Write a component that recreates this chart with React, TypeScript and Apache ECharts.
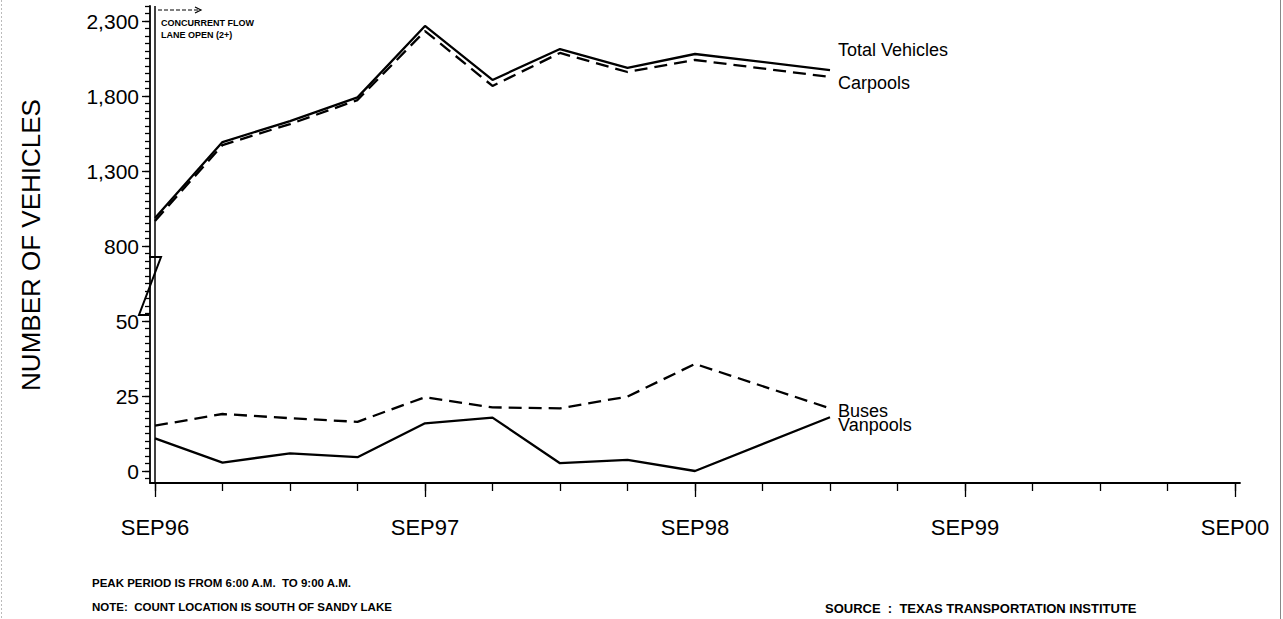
import React, { useEffect, useRef } from "react";
import * as echarts from "echarts";

// Months since SEP96 for each observation (quarterly, no Dec98 count)
const months = [0, 3, 6, 9, 12, 15, 18, 21, 24, 30];
const totalVehicles = [987, 1493, 1633, 1791, 2267, 1907, 2113, 1987, 2080, 1973];
const carpools = [967, 1473, 1613, 1773, 2233, 1867, 2087, 1960, 2040, 1927];
const buses = [15.1, 19, 17.6, 16.4, 24.6, 21.2, 20.9, 24.8, 35.7, 20.9];
const vanpools = [10.9, 2.8, 5.9, 4.6, 15.9, 17.8, 2.6, 3.7, 0, 17.9];

const yTickValues = [0, 25, 50, 800, 1300, 1800, 2300];
const xTickLabels = ["SEP96", "SEP97", "SEP98", "SEP99", "SEP00"];

const FONT = "'Liberation Sans', Arial, sans-serif";

// broken axis: 0..50 -> 0..20 units, 800..2300 -> 30..60 units
const toUnits = (v: number) => (v <= 50 ? v * 0.4 : 30 + (v - 800) / 50);

const unitTicks: number[] = [];
for (let u = -1; u <= 62; u++) unitTicks.push(u);
const unitMajor = yTickValues.map((v) => toUnits(v));
const quarterTicks: number[] = [];
for (let m = 0; m <= 48; m += 3) quarterTicks.push(m);
const yearTicks = xTickLabels.map((_, i) => i * 12);

export default function App() {
  const ref = useRef<HTMLDivElement>(null);
  useEffect(() => {
    if (!ref.current) return;
    const chart = echarts.init(ref.current, null, { renderer: "svg" });
    const mk = (name: string, vals: number[], dashed: boolean, off: number[]) => ({
      name,
      type: "line",
      xAxisIndex: 0,
      yAxisIndex: 0,
      symbol: "none",
      data: months.map((m, i) => [m, toUnits(vals[i])]),
      lineStyle: { color: "#000", width: 2.3, type: dashed ? [13, 7] : "solid" },
      endLabel: {
        show: true,
        formatter: "{a}",
        color: "#000",
        fontSize: 18,
        fontFamily: FONT,
        distance: 8,
        offset: off,
      },
    });
    const s0: any = mk("Total Vehicles", totalVehicles, false, [0, -20]);
    s0.markLine = {
      silent: true,
      symbol: "none",
      label: { show: false },
      lineStyle: { color: "#000", width: 1.5, type: "solid" },
      data: [{ xAxis: 0 }],
    };
    chart.setOption({
      animation: false,
      backgroundColor: "#fff",
      grid: { left: 150, top: 6, width: 1090, height: 477, containLabel: false },
      xAxis: [
        {
          type: "value",
          position: "bottom",
          min: -0.222,
          max: 48.222,
          axisLine: { show: true, onZero: false, lineStyle: { color: "#000", width: 1.8 } },
          axisTick: { show: true, customValues: quarterTicks, length: 8, lineStyle: { color: "#000", width: 1.3 } },
          axisLabel: { show: false },
          splitLine: { show: false },
        },
        {
          type: "value",
          position: "bottom",
          min: -0.222,
          max: 48.222,
          axisLine: { show: false, onZero: false },
          axisTick: { show: true, customValues: yearTicks, length: 14, lineStyle: { color: "#000", width: 1.3 } },
          axisLabel: {
            show: true,
            customValues: yearTicks,
            margin: 33,
            color: "#000",
            fontSize: 22,
            fontFamily: FONT,
            formatter: (v: number) => xTickLabels[Math.round(v / 12)] ?? "",
          },
          splitLine: { show: false },
        },
      ],
      yAxis: [
        {
          type: "value",
          position: "left",
          min: -1.6,
          max: 62,
          axisLine: { show: true, onZero: false, lineStyle: { color: "#000", width: 1.8 } },
          axisTick: { show: true, customValues: unitTicks, length: 5, lineStyle: { color: "#000", width: 1.3 } },
          axisLabel: { show: false },
          splitLine: { show: false },
        },
        {
          type: "value",
          position: "left",
          min: -1.6,
          max: 62,
          axisLine: { show: false, onZero: false },
          axisTick: { show: true, customValues: unitMajor, length: 8, lineStyle: { color: "#000", width: 1.3 } },
          axisLabel: {
            show: true,
            customValues: unitMajor,
            margin: 11,
            color: "#000",
            fontSize: 21,
            fontFamily: FONT,
            formatter: (v: number) => {
              const i = unitMajor.findIndex((u) => Math.abs(u - v) < 1e-6);
              return i >= 0 ? yTickValues[i].toLocaleString("en-US") : "";
            },
          },
          splitLine: { show: false },
        },
      ],
      series: [
        s0,
        mk("Carpools", carpools, true, [0, 6]),
        mk("Buses", buses, true, [0, 3]),
        mk("Vanpools", vanpools, false, [0, 8]),
      ],
      graphic: [
        {
          type: "text",
          x: 31,
          y: 245,
          rotation: Math.PI / 2,
          style: {
            text: "NUMBER OF VEHICLES",
            fill: "#000",
            fontSize: 26,
            fontFamily: FONT,
            align: "center",
            verticalAlign: "middle",
          },
        },
        {
          type: "text",
          x: 161,
          y: 23,
          style: { text: "CONCURRENT FLOW", fill: "#000", fontSize: 9, fontWeight: "bold", fontFamily: FONT, verticalAlign: "middle" },
        },
        {
          type: "text",
          x: 161,
          y: 35,
          style: { text: "LANE OPEN (2+)", fill: "#000", fontSize: 9, fontWeight: "bold", fontFamily: FONT, verticalAlign: "middle" },
        },
        {
          type: "polyline",
          shape: { points: [[158, 10], [200, 10]] },
          style: { stroke: "#000", lineWidth: 1.2, lineDash: [4, 2], fill: null },
        },
        {
          type: "polyline",
          shape: { points: [[195, 7], [201, 10], [195, 13]] },
          style: { stroke: "#000", lineWidth: 1.2, fill: null },
        },
        {
          type: "polyline",
          shape: { points: [[149, 257], [161, 257], [139, 315], [149, 315]] },
          style: { stroke: "#000", lineWidth: 2, fill: null },
        },
        {
          type: "text",
          x: 92,
          y: 583,
          style: { text: "PEAK PERIOD IS FROM 6:00 A.M.  TO 9:00 A.M.", fill: "#000", fontSize: 11.5, fontWeight: "bold", fontFamily: FONT, verticalAlign: "middle" },
        },
        {
          type: "text",
          x: 92,
          y: 607,
          style: { text: "NOTE:  COUNT LOCATION IS SOUTH OF SANDY LAKE", fill: "#000", fontSize: 11.5, fontWeight: "bold", fontFamily: FONT, verticalAlign: "middle" },
        },
        {
          type: "text",
          x: 825,
          y: 608,
          style: { text: "SOURCE  :  TEXAS TRANSPORTATION INSTITUTE", fill: "#000", fontSize: 13, fontWeight: "bold", fontFamily: FONT, verticalAlign: "middle" },
        },
        {
          type: "line",
          shape: { x1: 1280.5, y1: 0, x2: 1280.5, y2: 619 },
          style: { stroke: "#888", lineWidth: 1 },
        },
        {
          type: "line",
          shape: { x1: 1.5, y1: 0, x2: 1.5, y2: 619 },
          style: { stroke: "#bbb", lineWidth: 1, lineDash: [2, 2] },
        },
      ],
    });
    return () => chart.dispose();
  }, []);
  return (
    <div
      ref={ref}
      style={{ position: "fixed", left: 0, top: 0, width: 1283, height: 619, background: "#fff" }}
    />
  );
}
